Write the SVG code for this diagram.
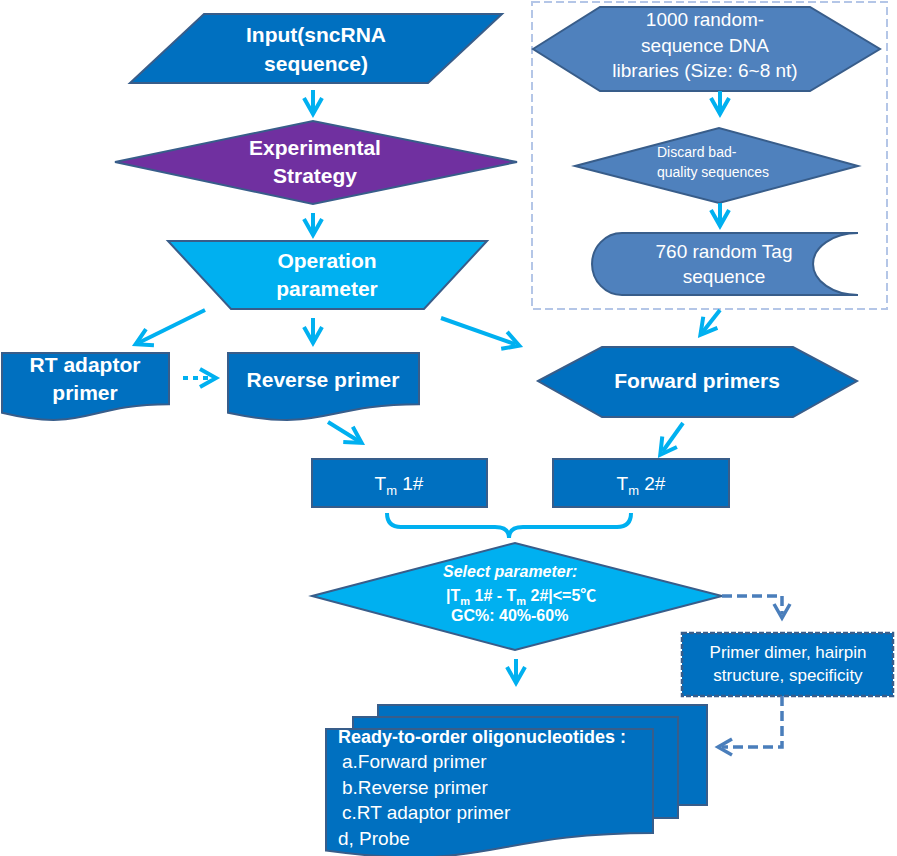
<svg xmlns="http://www.w3.org/2000/svg" width="897" height="856" viewBox="0 0 897 856">
<style>
.dk{fill:#0070C0;stroke:#385D8A;stroke-width:2}
.md{fill:#4F81BD;stroke:#385D8A;stroke-width:2}
.cy{fill:#00B0F0;stroke:#385D8A;stroke-width:2}
.pu{fill:#7030A0;stroke:#385D8A;stroke-width:2}
text{fill:#FFFFFF;font-family:"Liberation Sans","Noto Sans CJK SC",sans-serif}
.b{font-weight:bold;font-size:21px;text-anchor:middle}
.r{font-size:19px;text-anchor:middle}
.ar{fill:none;stroke:#00B0F0;stroke-width:4;marker-end:url(#ah)}
.da{fill:none;stroke:#4A7EBB;stroke-width:3.5;stroke-dasharray:10 5;marker-end:url(#ah2)}
</style>
<defs>
<marker id="ah" markerUnits="userSpaceOnUse" viewBox="-20 -15 35 30" markerWidth="35" markerHeight="30" refX="0" refY="0" orient="auto">
<path d="M-12,-9 L4,0 L-12,9" fill="none" stroke="#00B0F0" stroke-width="4"/>
</marker>
<marker id="ah2" markerUnits="userSpaceOnUse" viewBox="-20 -15 35 30" markerWidth="35" markerHeight="30" refX="0" refY="0" orient="auto">
<path d="M-10,-8 L4,0 L-10,8" fill="none" stroke="#4A7EBB" stroke-width="3.5"/>
</marker>
</defs>

<rect id="library-group" x="532" y="2" width="355" height="307" fill="none" stroke="#B4C6E7" stroke-width="2" stroke-dasharray="8 4"/>

<g id="input">
<polygon class="dk" points="204,14 502,14 428,83 130,83"/>
<text class="b" x="316" y="42">Input(sncRNA</text>
<text class="b" x="316" y="71">sequence)</text>
</g>

<g id="strategy">
<polygon class="pu" points="115,162 313,121 517,162 313,204"/>
<text class="b" x="315" y="155">Experimental</text>
<text class="b" x="315" y="183">Strategy</text>
</g>

<g id="operation">
<polygon class="cy" points="168,241 487,241 424,309 231,309"/>
<text class="b" x="327" y="268">Operation</text>
<text class="b" x="327" y="296">parameter</text>
</g>

<g id="rt-adaptor">
<path class="dk" d="M2,353 H169 V404.3 C85.5,404.3 85.5,432.9 2,412.8 Z"/>
<text class="b" x="85" y="372">RT adaptor</text>
<text class="b" x="85" y="400">primer</text>
</g>

<g id="reverse">
<path class="dk" d="M228,353 H419 V404.3 C323.5,404.3 323.5,432.9 228,412.8 Z"/>
<text class="b" x="323" y="387">Reverse primer</text>
</g>

<g id="libraries">
<polygon class="md" points="533,49 600,7 810,7 880,49 810,91 600,91"/>
<text class="r" x="705" y="26">1000 random-</text>
<text class="r" x="705" y="52">sequence DNA</text>
<text class="r" x="705" y="77">libraries (Size: 6~8 nt)</text>
</g>

<g id="discard">
<polygon class="md" points="575,166 719,128 858,166 719,203"/>
<text x="657" y="157" font-size="14">Discard bad-</text>
<text x="657" y="177" font-size="14">quality sequences</text>
</g>

<g id="tag">
<path class="md" d="M622,233 H858 A45,31 0 0 0 858,295 H622 A30,31 0 0 1 622,233 Z"/>
<text class="r" x="724" y="258">760 random Tag</text>
<text class="r" x="724" y="283">sequence</text>
</g>

<g id="forward">
<polygon class="dk" points="538,381 602,347 793,347 857,381 793,417 602,417"/>
<text class="b" x="697" y="388">Forward primers</text>
</g>

<g id="tm1">
<rect class="dk" x="312" y="459" width="175" height="48"/>
<text class="r" x="399" y="490" font-size="20">T<tspan font-size="13" dy="5">m</tspan><tspan dy="-5"> 1#</tspan></text>
</g>

<g id="tm2">
<rect class="dk" x="553" y="459" width="176" height="48"/>
<text class="r" x="641" y="490" font-size="20">T<tspan font-size="13" dy="5">m</tspan><tspan dy="-5"> 2#</tspan></text>
</g>

<g id="select">
<polygon class="cy" points="312,596 515,543 722,596 515,650"/>
<text x="443" y="577" font-size="16" font-weight="bold" font-style="italic">Select parameter:</text>
<text x="446" y="601" font-size="16" font-weight="bold">|T<tspan font-size="11" dy="4">m</tspan><tspan dy="-4"> 1# - T</tspan><tspan font-size="11" dy="4">m</tspan><tspan dy="-4"> 2#|&lt;=5℃</tspan></text>
<text x="451" y="621" font-size="16" font-weight="bold">GC%: 40%-60%</text>
</g>

<g id="check">
<rect x="682" y="633" width="211" height="63" fill="#0070C0" stroke="#385D8A" stroke-width="2.5" stroke-dasharray="5 2"/>
<text x="788" y="658" font-size="17" text-anchor="middle">Primer dimer, hairpin</text>
<text x="788" y="681" font-size="17" text-anchor="middle">structure, specificity</text>
</g>

<g id="output">
<rect class="dk" x="378" y="705" width="329" height="100"/>
<rect class="dk" x="353" y="717" width="325" height="101"/>
<path class="dk" d="M326,729 H653 V833 C489.5,833 489.5,873 326,850.6 Z"/>
<text x="338" y="743" font-size="18" font-weight="bold">Ready-to-order oligonucleotides :</text>
<text x="342" y="768" font-size="19">a.Forward primer</text>
<text x="342" y="794" font-size="19">b.Reverse primer</text>
<text x="342" y="819" font-size="19">c.RT adaptor primer</text>
<text x="338" y="845" font-size="19">d, Probe</text>
</g>

<g id="connectors">
<line class="ar" x1="313" y1="90" x2="313" y2="110"/>
<line class="ar" x1="313" y1="213" x2="313" y2="231"/>
<line class="ar" x1="205" y1="310" x2="139.2" y2="342.5"/>
<line class="ar" x1="313" y1="318" x2="313" y2="339"/>
<line class="ar" x1="441" y1="318" x2="515.5" y2="344.3"/>
<line class="ar" x1="328" y1="422" x2="358.2" y2="440.8"/>
<line class="ar" x1="720" y1="91" x2="720" y2="110"/>
<line class="ar" x1="720" y1="203" x2="720" y2="222"/>
<line class="ar" x1="720" y1="310" x2="702.9" y2="331.7"/>
<line class="ar" x1="683" y1="423" x2="662.6" y2="451.5"/>
<line class="ar" x1="516" y1="659" x2="516" y2="679"/>
<line class="ar" x1="183" y1="378" x2="212" y2="378" stroke-dasharray="5 5"/>
<path d="M387,513 Q387,527 401,527 H495 Q509,527 509,538 Q509,527 523,527 H617 Q631,527 631,513" fill="none" stroke="#00B0F0" stroke-width="4"/>
<path class="da" d="M722,596 H782 V614"/>
<path class="da" d="M782,696 V747 H722"/>
</g>
</svg>
